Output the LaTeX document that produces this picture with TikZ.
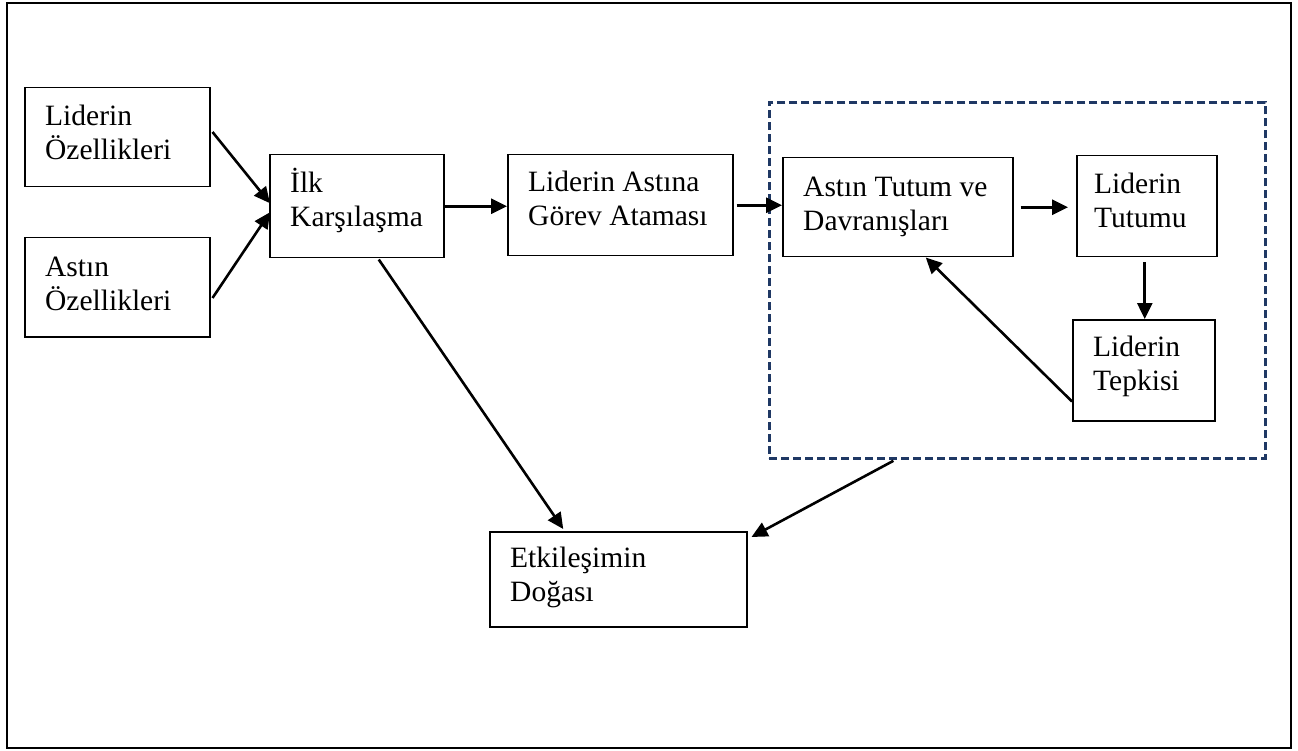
\documentclass[tikz,border=0pt]{standalone}
\usepackage{fontspec}
\setmainfont{Liberation Serif}
\usetikzlibrary{arrows.meta}
\definecolor{navy}{HTML}{1F3864}
% invisible strut that fixes the height of a first text line
\newcommand\mytopstrut{\rule{0pt}{25pt}}
\begin{document}
\begin{tikzpicture}[x=1pt,y=-1pt,
  box/.style={draw, line width=1.5pt, rectangle, inner sep=0pt, anchor=north west},
  txt/.style={inner sep=0pt, anchor=north west, align=left,
    font=\fontsize{29.5pt}{34pt}\selectfont},
  arr/.style={line width=2.6pt, -{Triangle[length=16pt,width=15pt]}},
  grpbox/.style={draw=navy, line width=2.8pt, dash pattern=on 8pt off 4pt, rectangle, inner sep=0pt, anchor=north west}]
\useasboundingbox (0,0) rectangle (1298,751);
% outer frame
\draw[line width=1.5pt] (7,3) rectangle (1291,748);

% boxes
\node[box, minimum width=185pt, minimum height=99pt]  (lo)  at (24,87)   {};
\node[box, minimum width=185pt, minimum height=99pt]  (ao)  at (24,237)  {};
\node[box, minimum width=174pt, minimum height=103pt] (ik)  at (269,154) {};
\node[box, minimum width=225pt, minimum height=101pt] (lag) at (507,154) {};
\node[grpbox, minimum width=496pt, minimum height=356pt] (grp) at (768,101) {};
\node[box, minimum width=230pt, minimum height=99pt]  (atd) at (782,157) {};
\node[box, minimum width=140pt, minimum height=101pt] (lt)  at (1076,155) {};
\node[box, minimum width=142pt, minimum height=101pt] (ltp) at (1072,319) {};
\node[box, minimum width=257pt, minimum height=95pt]  (ed)  at (489,531) {};

% texts: first baseline 38pt below the box top, 21pt from its left side
\node[txt] (lo-t)  at ([xshift=21pt,yshift=-13pt]lo.north west)  {\mytopstrut Liderin\\Özellikleri};
\node[txt] (ao-t)  at ([xshift=21pt,yshift=-14pt]ao.north west)  {\mytopstrut Astın\\Özellikleri};
\node[txt] (ik-t)  at ([xshift=21pt,yshift=-13pt]ik.north west)  {\mytopstrut İlk\\Karşılaşma};
\node[txt] (lag-t) at ([xshift=21pt,yshift=-12pt]lag.north west) {\mytopstrut Liderin Astına\\Görev Ataması};
\node[txt] (atd-t) at ([xshift=21pt,yshift=-14pt]atd.north west) {\mytopstrut Astın Tutum ve\\Davranışları};
\node[txt] (lt-t)  at ([xshift=18pt,yshift=-13pt]lt.north west)  {\mytopstrut Liderin\\Tutumu};
\node[txt] (ltp-t) at ([xshift=21pt,yshift=-12pt]ltp.north west) {\mytopstrut Liderin\\Tepkisi};
\node[txt] (ed-t)  at ([xshift=21pt,yshift=-11pt]ed.north west)  {\mytopstrut Etkileşimin\\Doğası};

% connectors
\draw[arr] ([xshift=2pt,yshift=-45pt]lo.north east) -- ([xshift=1pt,yshift=3pt]ik.west);
\draw[arr] ([xshift=2pt,yshift=-61pt]ao.north east) -- ([xshift=1pt,yshift=-6pt]ik.west);
\draw[arr] (ik.east) -- (ik.east -| lag.west);
\draw[arr] ([xshift=3pt]lag.east) -- (lag.east -| atd.west);
\draw[arr] ([xshift=7pt]atd.east) -- ([xshift=-8pt]atd.east -| lt.west);
\draw[arr] ([xshift=-2pt,yshift=-5pt]lt.south) -- ([xshift=-2pt]lt.south |- ltp.north);
\draw[arr] ([yshift=20pt]ltp.south west) -- ([xshift=28pt]atd.south);
\draw[arr] ([xshift=-124pt,yshift=-1pt]grp.south) -- ([xshift=4pt,yshift=-6pt]ed.north east);
\draw[arr] ([xshift=22pt,yshift=-1pt]ik.south) -- ([xshift=-55pt,yshift=2pt]ed.north);
\end{tikzpicture}
\end{document}
